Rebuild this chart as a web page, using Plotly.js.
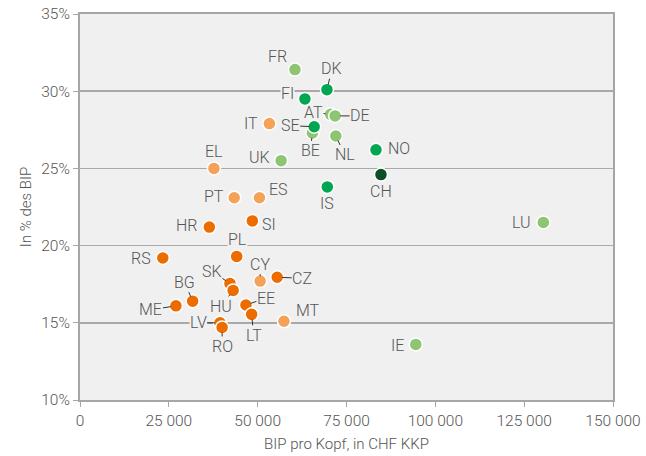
<!DOCTYPE html>
<html>
<head>
<meta charset="utf-8">
<script src="https://cdn.plot.ly/plotly-3.0.1.min.js"></script>
<style>html,body{margin:0;padding:0;background:#fff}#chart{width:646px;height:456px}</style>
</head>
<body>
<div id="chart"></div>
<script>
// ---- data ----
var countries = ["FR","UK","AT","DE","BE","NL","LU","IE",
                 "IT","EL","PT","ES","CY","MT",
                 "SI","HR","PL","RS","CZ","SK","HU","BG","ME","EE","LT","LV","RO",
                 "DK","FI","SE","NO","IS",
                 "CH"];
var gdpPerCapita = [60500,56600,70500,71800,65400,72000,130400,94500,
                    53300,37700,43400,50500,50700,57400,
                    48500,36400,44100,23300,55500,42200,43100,31700,27000,46700,48300,39400,40000,
                    69500,63300,65900,83300,69600,
                    84700];
var shareOfGDP = [31.4,25.5,28.5,28.4,27.3,27.1,21.5,13.6,
                  27.9,25.0,23.1,23.1,17.7,15.1,
                  21.6,21.2,19.3,19.2,17.95,17.55,17.1,16.4,16.1,16.15,15.55,15.0,14.7,
                  30.1,29.5,27.7,26.2,23.8,
                  24.6];
var group = ["lg","lg","lg","lg","lg","lg","lg","lg",
             "lo","lo","lo","lo","lo","lo",
             "do","do","do","do","do","do","do","do","do","do","do","do","do",
             "g","g","g","g","g",
             "dg"];
var xTickVals = [0,25000,50000,75000,100000,125000,150000];
var xTickText = ["0","25 000","50 000","75 000","100 000","125 000","150 000"];
var yTickVals = [10,15,20,25,30,35];
var yTickText = ["10%","15%","20%","25%","30%","35%"];

// ---- styles ----
var groupOrder = ["lg","lo","do","g","dg"];
var groupColor = {lg:"#8dc572", lo:"#f5a259", do:"#ec6c00", g:"#00a651", dg:"#0b4f27"};

// label offsets (pixels, text centre relative to point), leader line flag, bg mask flag
var labelStyle = {
  FR:[-17,-13,0,0], DK:[5,-21,1,0], FI:[-17,-5,0,1], AT:[-17,-2,1,0], DE:[25,0,1,0],
  SE:[-24,-1,1,0], BE:[-2,18,1,0], NL:[9,19,1,0], IT:[-18,0,0,0], NO:[23,-1,0,0],
  UK:[-22,-3,0,0], EL:[0,-17,0,0], CH:[0,17,0,0], IS:[0,17,0,0], PT:[-20,-1,0,0],
  ES:[19,-8,0,0], SI:[17,4,0,0], HR:[-22,-2,0,0], PL:[1,-17,0,1], RS:[-22,1,0,0],
  CY:[0,-17,1,0], CZ:[25,1,1,0], SK:[-18,-12,1,0], HU:[-12,16,1,0], BG:[-8,-19,1,0],
  ME:[-25,4,1,0], EE:[20,-7,1,0], LT:[2,21,1,0], LV:[-22,0,1,1], RO:[0,19,1,0],
  MT:[24,-11,0,0], LU:[-22,0,0,0], IE:[-18,1,0,0]
};

var fontFam = "Roboto, 'Liberation Sans', sans-serif";
var textCol = "#555555";

var traces = groupOrder.map(function(g){
  var xs=[], ys=[], ns=[];
  for (var i=0;i<countries.length;i++){ if(group[i]===g){ xs.push(gdpPerCapita[i]); ys.push(shareOfGDP[i]); ns.push(countries[i]); } }
  return {type:"scatter", mode:"markers", x:xs, y:ys, text:ns, hoverinfo:"text",
          marker:{size:13, color:groupColor[g], line:{color:"#ffffff", width:1.5}},
          showlegend:false, cliponaxis:false};
});

var annotations = countries.map(function(c,i){
  var s = labelStyle[c];
  return {x:gdpPerCapita[i], y:shareOfGDP[i], xref:"x", yref:"y", text:c,
          showarrow:true, ax:s[0], ay:s[1], axref:"pixel", ayref:"pixel",
          arrowhead:0, arrowwidth:1, standoff:5,
          arrowcolor: s[2] ? "#333333" : "rgba(0,0,0,0)",
          bgcolor: s[3] ? "#f0f0f0" : "rgba(0,0,0,0)", borderpad:0,
          font:{family:fontFam, size:16, color:textCol, weight:300}};
});

var layout = {
  width:646, height:456,
  margin:{l:80, r:33, t:14, b:56},
  paper_bgcolor:"#ffffff", plot_bgcolor:"#f0f0f0",
  font:{family:fontFam, color:textCol, size:15, weight:300},
  xaxis:{range:[0,150000], tickvals:xTickVals, ticktext:xTickText,
         showgrid:false, zeroline:false, showline:true, mirror:true, linecolor:"#a6a6a6", linewidth:2,
         ticks:"outside", ticklen:5, tickcolor:"#a6a6a6", tickwidth:1,
         tickfont:{family:fontFam, size:15.5, color:textCol, weight:300},
         title:{text:"BIP pro Kopf, in CHF KKP", font:{family:fontFam, size:15, color:textCol, weight:300}, standoff:10}},
  yaxis:{range:[10,35], tickvals:yTickVals, ticktext:yTickText,
         showgrid:true, gridcolor:"#a9a9a9", gridwidth:1.5, zeroline:false,
         showline:true, mirror:true, linecolor:"#a6a6a6", linewidth:2,
         ticks:"outside", ticklen:5, tickcolor:"#a6a6a6", tickwidth:1,
         tickfont:{family:fontFam, size:15.5, color:textCol, weight:300},
         title:{text:"In % des BIP", font:{family:fontFam, size:15, color:textCol, weight:300}, standoff:6}},
  annotations:annotations,
  hovermode:"closest"
};

Plotly.newPlot("chart", traces, layout, {displayModeBar:false, staticPlot:true});
</script>
</body>
</html>
